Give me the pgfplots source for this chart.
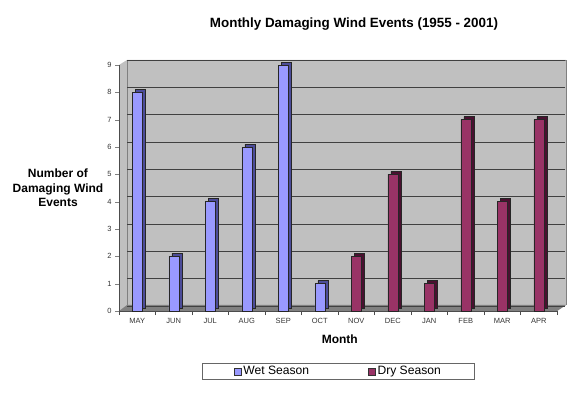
\documentclass[border=0pt]{standalone}
\usepackage{pgfplots}
\pgfplotsset{compat=1.18}
\usepackage{fontspec}
\setmainfont{Liberation Sans}
\definecolor{wet}{HTML}{9999FF}
\definecolor{wetside}{HTML}{4C4C99}
\definecolor{dry}{HTML}{993366}
\definecolor{dryside}{HTML}{4A1030}
\definecolor{wall}{HTML}{C0C0C0}
\definecolor{floor}{HTML}{808080}
\begin{document}
\begin{tikzpicture}[x=1pt,y=1pt]
\path[use as bounding box] (0,0) rectangle (576,394);
% 3D wall and floor behind the plot
\fill[wall] (119,83) -- (119,329) -- (127,334) -- (566,334) -- (566,89) -- (557,83) -- cycle;
\draw[black!50, line width=0.5pt] (127,89) -- (127,334) -- (566,334) -- (566,89);
\fill[floor] (119,83) -- (557,83) -- (566,89) -- (127,89) -- cycle;
\node[font=\bfseries\fontsize{13.4}{16}\selectfont] at (354,370) {Monthly Damaging Wind Events (1955 - 2001)};
\node[font=\bfseries\fontsize{12}{14.5}\selectfont, align=center] at (58,206) {Number of\\Damaging Wind\\Events};
\begin{axis}[
  at={(119pt,83pt)}, anchor=south west,
  scale only axis, width=438pt, height=246pt,
  xmin=-0.5, xmax=11.5, ymin=0, ymax=9,
  clip=false,
  axis x line*=bottom, axis y line*=left,
  axis line style={black!70, line width=0.6pt},
  ybar, bar width=10pt,
  legend image code/.code={\draw[#1, draw=black!80, line width=0.4pt] (0pt,-3.5pt) rectangle (7pt,3.5pt);},
  xtick={0,...,11},
  xticklabels={MAY,JUN,JUL,AUG,SEP,OCT,NOV,DEC,JAN,FEB,MAR,APR},
  major x tick style={draw=none},
  minor xtick={-0.5,0.5,...,11.5},
  minor x tick style={black!70},
  ytick={0,...,9},
  tick align=outside, tick pos=left,
  major tick length=4pt, minor tick length=4pt,
  ymajorgrids, grid style={black!75, line width=0.6pt, shift={(8pt,5pt)}},
  tick label style={font=\fontsize{7.5}{9}\selectfont, black!80},
  /pgf/number format/assume math mode=true,
  xlabel={Month}, xlabel style={font=\bfseries\fontsize{12}{14}\selectfont, at={(axis description cs:0.504,-0.114)}, anchor=center},
  legend style={at={(axis description cs:0.501,-0.246)}, anchor=center, draw=black!60, line width=0.6pt,
    legend columns=2, font=\fontsize{12.1}{14}\selectfont, inner xsep=31pt, inner ysep=1pt,
    nodes={inner xsep=2.5pt},
    /tikz/every even column/.append style={column sep=56pt}},
]
% side faces (3D depth)
\addplot[forget plot, bar shift=0pt, fill=wetside, draw=black!85, line width=0.4pt, shift={(3pt,3pt)}]
  coordinates {(0,8) (1,2) (2,4) (3,6) (4,9) (5,1)};
\addplot[forget plot, bar shift=0pt, fill=dryside, draw=black!85, line width=0.4pt, shift={(3pt,3pt)}]
  coordinates {(6,2) (7,5) (8,1) (9,7) (10,4) (11,7)};
% front faces
\addplot[bar shift=0pt, fill=wet, draw=black!85, line width=0.4pt]
  coordinates {(0,8) (1,2) (2,4) (3,6) (4,9) (5,1)};
\addlegendentry{Wet Season}
\addplot[bar shift=0pt, fill=dry, draw=black!85, line width=0.4pt]
  coordinates {(6,2) (7,5) (8,1) (9,7) (10,4) (11,7)};
\addlegendentry{Dry Season}
\end{axis}
\end{tikzpicture}
\end{document}
